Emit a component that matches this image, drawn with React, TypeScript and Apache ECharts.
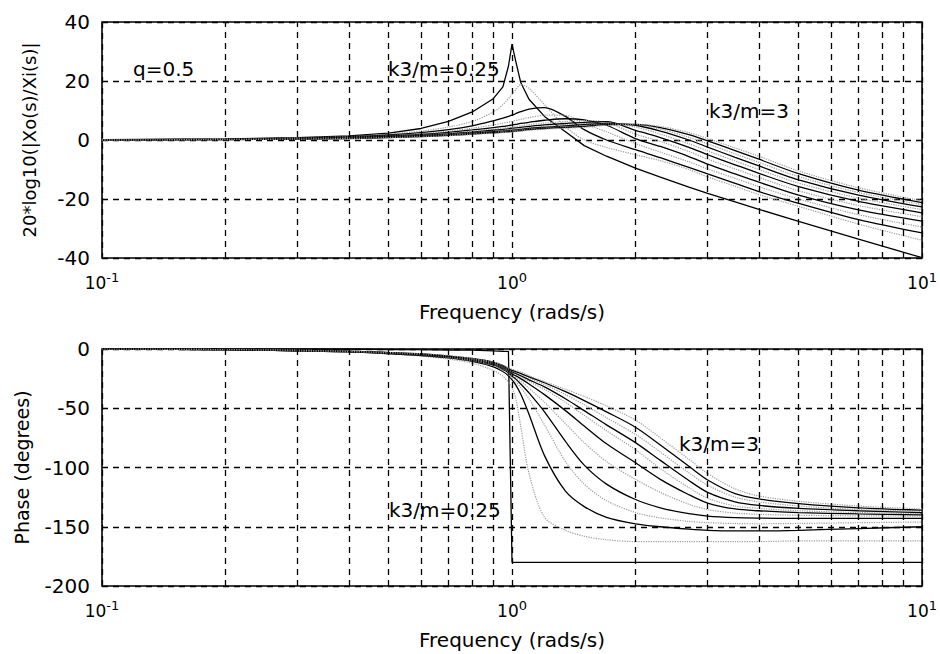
import React, { useEffect, useRef } from "react";
import * as echarts from "echarts";

const FONT = "DejaVu Sans";

// frequency grid (rad/s)
const freqs = [0.1, 0.2, 0.3, 0.4, 0.5, 0.6, 0.7, 0.8, 0.9, 0.95, 0.98, 1.0, 1.02, 1.05, 1.1, 1.2, 1.35, 1.5, 1.7, 2.0, 2.3, 2.7, 3.0, 3.5, 4.0, 5.0, 7.0, 10.0];

// k3/m values of the family of curves
const kValues = ["0.25", "0.5", "0.75", "1", "1.25", "1.5", "1.75", "2", "2.25", "2.5", "2.75", "3"];

// magnitude (dB) for each k3/m
const mag025 = [0.1, 0.35, 0.8, 1.4, 2.3, 3.9, 6.3, 9.5, 14, 18, 25, 32.5, 27, 19.5, 13.8, 8, 2.8, -1.9, -5.5, -9.5, -12.6, -16, -18.1, -21, -23.5, -27.6, -33.6, -39.9];
const mag050 = [0.1, 0.3, 0.7, 1.2, 2, 3, 4.4, 6.3, 9.5, 12, 14, 15.5, 17, 18.8, 17.5, 12, 4.5, 0, -2.5, -5, -7, -10, -12.5, -15.7, -18.5, -22.5, -28.5, -34];
const mag075 = [0.05, 0.3, 0.6, 1.1, 1.7, 2.5, 3.5, 4.8, 6.5, 7.4, 8, 8.4, 8.9, 9.6, 10.5, 11, 8, 3.5, 0, -3.3, -6, -9.3, -11.5, -14.7, -17.5, -21.5, -27, -31.5];
const mag100 = [0.05, 0.25, 0.55, 1, 1.5, 2.2, 3, 4, 5.1, 5.7, 6, 6.3, 6.6, 7, 7.6, 8.4, 8.4, 5.5, 2.8, -1.2, -4.1, -7.4, -9.8, -13, -15.8, -20, -25.3, -29.5];
const mag125 = [0.05, 0.2, 0.5, 0.9, 1.35, 1.9, 2.6, 3.4, 4.2, 4.6, 4.9, 5.1, 5.3, 5.6, 6, 6.7, 7.2, 6.8, 5, 0.5, -2.2, -5.6, -8.2, -11.5, -14.3, -18.7, -23.7, -27.5];
const mag150 = [0.05, 0.2, 0.45, 0.8, 1.2, 1.7, 2.3, 3, 3.7, 4, 4.2, 4.4, 4.6, 4.8, 5.2, 5.7, 6.3, 6.6, 6, 2, -0.5, -3.9, -6.5, -9.8, -12.7, -17.2, -22.2, -26];
const mag175 = [0.05, 0.2, 0.4, 0.7, 1.1, 1.55, 2.1, 2.7, 3.3, 3.6, 3.8, 4, 4.1, 4.3, 4.6, 5.1, 5.6, 6, 6.2, 3.3, 0.8, -2.5, -5, -8.4, -11.3, -15.8, -20.8, -24.7];
const mag200 = [0.05, 0.2, 0.4, 0.65, 1, 1.4, 1.9, 2.5, 3, 3.3, 3.5, 3.6, 3.7, 3.9, 4.2, 4.6, 5.1, 5.5, 5.8, 4.4, 2, -1.3, -3.7, -7.1, -10, -14.6, -19.7, -23.6];
const mag225 = [0.05, 0.15, 0.35, 0.6, 0.95, 1.3, 1.75, 2.3, 2.8, 3.05, 3.2, 3.3, 3.4, 3.6, 3.9, 4.3, 4.8, 5.2, 5.6, 5, 3, 0, -2.4, -5.9, -8.8, -13.5, -18.7, -22.7];
const mag250 = [0.05, 0.15, 0.35, 0.55, 0.9, 1.2, 1.65, 2.15, 2.6, 2.85, 3, 3.1, 3.2, 3.4, 3.7, 4.1, 4.5, 4.9, 5.4, 5.2, 3.7, 0.9, -1.3, -4.7, -7.6, -12.4, -17.8, -21.9];
const mag275 = [0.05, 0.15, 0.3, 0.5, 0.85, 1.15, 1.55, 2, 2.45, 2.65, 2.8, 2.9, 3, 3.2, 3.5, 3.9, 4.3, 4.6, 5.2, 5.3, 4.2, 1.8, -0.3, -3.6, -6.5, -11.4, -17, -21.2];
const mag300 = [0.05, 0.15, 0.3, 0.5, 0.8, 1.1, 1.45, 1.9, 2.3, 2.5, 2.6, 2.7, 2.8, 3, 3.3, 3.7, 4, 4.3, 5, 5.3, 4.6, 2.5, 0.5, -2.7, -5.5, -10.5, -16.2, -20.6];

// phase (degrees) for each k3/m
const ph025 = [0, 0, 0, 0, -0.5, -0.5, -1, -1, -1.5, -2, -2, -180, -180, -180, -180, -180, -180, -180, -180, -180, -180, -180, -180, -180, -180, -180, -180, -180];
const ph050 = [0, -0.5, -1.5, -2.5, -4, -6, -8.5, -12, -18, -23, -28, -33, -41, -65, -105, -142, -153, -158, -161, -162.5, -162.5, -162.5, -162.5, -162.5, -162.5, -162, -162, -162];
const ph075 = [0, -0.5, -1.5, -2.5, -4, -5.5, -7.5, -10.5, -15, -19, -22.5, -26, -30, -38, -55, -90, -120, -133, -142, -147.5, -150, -152, -153, -153.5, -153.5, -153, -151.5, -150];
const ph100 = [0, -0.5, -1.5, -2.5, -3.5, -5, -7, -10, -14, -18, -21.5, -25, -27.5, -32.5, -42, -64, -95, -114, -128, -138, -142.5, -145.5, -146.5, -147.3, -147.5, -147.2, -146.6, -146];
const ph125 = [0, -0.5, -1.5, -2.5, -3.5, -5, -7, -9.5, -13.5, -17, -20, -23, -25.2, -29.5, -37, -53, -78, -98, -114, -127, -134, -139, -141, -142.3, -142.7, -143, -143, -143];
const ph150 = [0, -0.5, -1.5, -2.5, -3.5, -5, -7, -9.5, -13, -16.5, -19.5, -22, -23.8, -27, -33, -45, -63, -79, -95, -110, -121, -131, -135.5, -138.5, -139.5, -140.3, -140.8, -141];
const ph175 = [0, -0.5, -1.5, -2, -3.5, -5, -6.5, -9, -12.5, -16, -18.5, -21, -22.5, -25, -29.5, -38.5, -52, -65, -80, -96, -110, -123, -130, -135, -136.5, -138, -139.2, -140];
const ph200 = [0, -0.5, -1.5, -2, -3.5, -4.5, -6.5, -9, -12, -15.5, -18, -20, -21.3, -23.5, -27.5, -34, -45, -56, -69, -85, -101, -117, -126, -132.5, -134.5, -136.5, -138, -139];
const ph225 = [0, -0.5, -1, -2, -3, -4.5, -6, -8.5, -11.5, -15, -17.5, -19.5, -20.6, -22.5, -26, -32, -42, -52, -64, -79, -94, -111, -121, -129, -132, -134.5, -136.5, -138];
const ph250 = [0, -0.5, -1, -2, -3, -4.5, -6, -8.5, -11.5, -14.5, -17, -19, -20, -21.7, -24.8, -30, -38.5, -47, -58, -72, -87, -104.5, -115, -125, -129, -132.5, -135.5, -137];
const ph275 = [0, -0.5, -1, -2, -3, -4, -6, -8, -11, -14, -16.5, -18, -19, -20.6, -23.5, -28.5, -36, -43.5, -53, -66, -81, -99, -110.5, -122, -126.5, -130.5, -134, -136];
const ph300 = [0, -0.5, -1, -2, -3, -4, -5.5, -8, -11, -13.5, -16, -17, -18, -19.5, -22.5, -27.5, -34, -40, -48, -60, -75, -93, -105, -118, -124, -128.5, -132.5, -135];

const magnitudes = [mag025, mag050, mag075, mag100, mag125, mag150, mag175, mag200, mag225, mag250, mag275, mag300];
const phases = [ph025, ph050, ph075, ph100, ph125, ph150, ph175, ph200, ph225, ph250, ph275, ph300];

// grid lines at the minor decades
const minorGridFreqs = [0.2, 0.3, 0.4, 0.5, 0.6, 0.7, 0.8, 0.9, 2, 3, 4, 5, 6, 7, 8, 9];

// axis ranges / ticks
const magTicks = [-40, -20, 0, 20, 40];
const phaseTicks = [-200, -150, -100, -50, 0];

const annotations = [
  { text: "q=0.5", x: 133, y: 69 },
  { text: "k3/m=0.25", x: 388, y: 69 },
  { text: "k3/m=3", x: 709, y: 111 },
  { text: "k3/m=3", x: 679, y: 444 },
  { text: "k3/m=0.25", x: 389, y: 510 },
];

const DASH = [6, 5];

function lineStyleFor(i: number) {
  // alternating solid black / dotted gray
  if (i % 2 === 0) return { color: "#000", width: 1.3, type: "solid" as const };
  return { color: "#9c9c9c", width: 1.2, type: "dotted" as const };
}

function xAxisFor(gridIndex: number) {
  return {
    type: "log" as const,
    logBase: 10,
    min: 0.1,
    max: 10,
    splitNumber: 2,
    gridIndex,
    axisLine: { show: false },
    axisTick: { show: false },
    axisLabel: {
      margin: 13,
      formatter: (v: number) => `{b|10}{s|${Math.round(Math.log10(v))}}`,
      rich: {
        b: { fontFamily: FONT, fontSize: 17, color: "#000", lineHeight: 24 },
        s: { fontFamily: FONT, fontSize: 13, color: "#000", verticalAlign: "top" },
      },
    },
    splitLine: { show: true, lineStyle: { color: "#000", type: DASH, width: 1.3 } },
    name: "Frequency (rads/s)",
    nameLocation: "middle" as const,
    nameGap: 44,
    nameTextStyle: { fontFamily: FONT, fontSize: 20, color: "#000" },
  };
}

function yAxisFor(gridIndex: number, ticks: number[], name: string, nameGap: number, nameSize: number) {
  return {
    type: "value" as const,
    gridIndex,
    min: ticks[0],
    max: ticks[ticks.length - 1],
    interval: ticks[1] - ticks[0],
    axisLine: { show: false },
    axisTick: { show: false },
    axisLabel: { fontFamily: FONT, fontSize: 20, color: "#000", margin: 12 },
    splitLine: { show: true, lineStyle: { color: "#000", type: DASH, width: 1.3 } },
    name,
    nameLocation: "middle" as const,
    nameRotate: 90,
    nameGap,
    nameTextStyle: { fontFamily: FONT, fontSize: nameSize, color: "#000" },
  };
}

export default function App() {
  const ref = useRef<HTMLDivElement>(null);
  useEffect(() => {
    if (!ref.current) return;
    const chart = echarts.init(ref.current, null, { renderer: "svg" });

    const series: any[] = [];
    // minor vertical grid lines (through axis scale)
    [0, 1].forEach((g) => {
      series.push({
        type: "line",
        xAxisIndex: g,
        yAxisIndex: g,
        data: [],
        silent: true,
        z: 1,
        markLine: {
          silent: true,
          symbol: "none",
          label: { show: false },
          lineStyle: { color: "#000", type: DASH, width: 1.3 },
          data: minorGridFreqs.map((f) => ({ xAxis: f })),
        },
      });
    });
    magnitudes.forEach((m, i) => {
      series.push({
        type: "line",
        name: "mag k3/m=" + kValues[i],
        xAxisIndex: 0,
        yAxisIndex: 0,
        data: freqs.map((f, j) => [f, m[j]]),
        symbol: "none",
        showSymbol: false,
        silent: true,
        smooth: i === 0 ? false : 0.3,
        z: 3,
        lineStyle: lineStyleFor(i),
      });
    });
    phases.forEach((p, i) => {
      series.push({
        type: "line",
        name: "phase k3/m=" + kValues[i],
        xAxisIndex: 1,
        yAxisIndex: 1,
        data: freqs.map((f, j) => [f, p[j]]),
        symbol: "none",
        showSymbol: false,
        silent: true,
        smooth: i === 0 ? false : 0.3,
        z: 3,
        lineStyle: lineStyleFor(i),
      });
    });

    const option: any = {
      animation: false,
      backgroundColor: "#fff",
      textStyle: { fontFamily: FONT },
      grid: [
        { left: 102, top: 22, width: 824, height: 236, show: true, borderColor: "#000", borderWidth: 1.6, backgroundColor: "transparent" },
        { left: 102, top: 349, width: 824, height: 237, show: true, borderColor: "#000", borderWidth: 1.6, backgroundColor: "transparent" },
      ],
      xAxis: [xAxisFor(0), xAxisFor(1)],
      yAxis: [
        yAxisFor(0, magTicks, "20*log10(|Xo(s)/Xi(s)|", 64, 18),
        yAxisFor(1, phaseTicks, "Phase (degrees)", 71, 19),
      ],
      series,
      graphic: annotations.map((a) => ({
        type: "text",
        x: a.x,
        y: a.y,
        z: 10,
        style: {
          text: a.text,
          fill: "#000",
          fontFamily: FONT,
          fontSize: 20,
          verticalAlign: "middle",
          align: "left",
        },
      })),
    };
    chart.setOption(option);
    return () => chart.dispose();
  }, []);
  return (
    <div
      ref={ref}
      style={{ position: "fixed", left: 0, top: 0, width: 940, height: 654, background: "#fff" }}
    />
  );
}
